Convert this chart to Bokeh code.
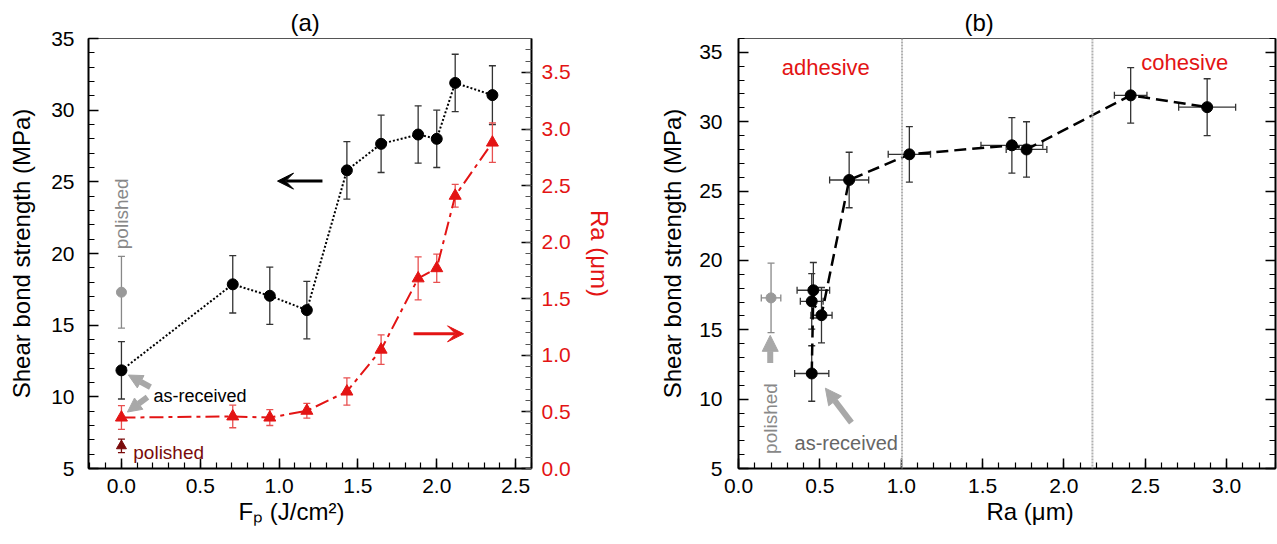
import numpy as np
from bokeh.plotting import figure
from bokeh.models import (Range1d, LinearAxis, SingleIntervalTicker, Whisker, TeeHead,
                          ColumnDataSource, Label, Arrow, VeeHead, NormalHead, Span,
                          NumeralTickFormatter, Title)
from bokeh.layouts import row
from bokeh.embed import file_html
from bokeh.resources import INLINE

# ---------------- data ----------------
fluence = [0.0, 0.706, 0.941, 1.176, 1.43, 1.647, 1.882, 2.0, 2.117, 2.353]
sbs = [11.85, 17.85, 17.05, 16.05, 25.8, 27.65, 28.3, 28.0, 31.9, 31.05]
sbs_err = [2.0, 2.0, 2.0, 2.0, 2.0, 2.0, 2.0, 2.0, 2.0, 2.05]
ra = [0.45, 0.46, 0.45, 0.51, 0.68, 1.05, 1.68, 1.77, 2.41, 2.88]
ra_err = [0.105, 0.10, 0.07, 0.065, 0.12, 0.13, 0.19, 0.125, 0.10, 0.175]

polished_fluence = [0.0]
polished_sbs = [17.3]
polished_sbs_err = [2.5]
polished_ra = [0.2]
polished_ra_err = [0.06]

adhesive_limit = 1.005
cohesive_limit = 2.175

FONT = "Liberation Sans"
RED = "#e31414"
RED_ERR = "#e85050"
DARK_RED = "#7a0a0a"
GREY = "#a8a8a8"


def style_axis(ax, color="black"):
    ax.major_label_text_font = FONT
    ax.major_label_text_font_size = "21px"
    ax.major_label_text_color = color
    ax.axis_label_text_font = FONT
    ax.axis_label_text_font_size = "24px"
    ax.axis_label_text_font_style = "normal"
    ax.axis_label_text_color = color
    ax.major_tick_in = 10
    ax.major_tick_out = 0
    ax.minor_tick_in = 6
    ax.minor_tick_out = 0
    ax.axis_line_width = 2
    ax.major_tick_line_width = 1.5
    ax.minor_tick_line_width = 1.2


def txt(p, x, y, text, size, color="black", align="left", baseline="alphabetic",
        style="normal", angle=0.0, y_range_name="default"):
    p.add_layout(Label(x=x, y=y, text=text, text_font=FONT, text_font_size=size,
                       text_color=color, text_align=align, text_baseline=baseline,
                       text_font_style=style, angle=angle, y_range_name=y_range_name))


def whisker(p, src, base, lower, upper, color, dim="height", y_range_name="default", head=7):
    p.add_layout(Whisker(source=src, base=base, lower=lower, upper=upper, dimension=dim,
                         line_color=color, line_width=1.3,
                         upper_head=TeeHead(size=head, line_color=color, line_width=1.3),
                         lower_head=TeeHead(size=head, line_color=color, line_width=1.3),
                         y_range_name=y_range_name))


def set_title(p, text, offset):
    p.title.text = text
    p.title.align = "left"
    p.title.offset = offset
    p.title.text_font = FONT
    p.title.text_font_size = "24px"
    p.title.text_font_style = "normal"
    p.title.text_color = "black"
    p.title.standoff = 5


def below_title(p, text, offset):
    p.add_layout(Title(text=text, align="left", offset=offset, text_font=FONT,
                       text_font_size="24px", text_font_style="normal",
                       text_color="black", standoff=0), "below")


# ---------------- sources ----------------
s_main = ColumnDataSource(dict(
    f=fluence, sbs=sbs, ra=ra,
    sbs_lo=[a - b for a, b in zip(sbs, sbs_err)], sbs_hi=[a + b for a, b in zip(sbs, sbs_err)],
    ra_lo=[a - b for a, b in zip(ra, ra_err)], ra_hi=[a + b for a, b in zip(ra, ra_err)],
))
s_pol = ColumnDataSource(dict(
    f=polished_fluence, sbs=polished_sbs, ra=polished_ra,
    sbs_lo=[a - b for a, b in zip(polished_sbs, polished_sbs_err)],
    sbs_hi=[a + b for a, b in zip(polished_sbs, polished_sbs_err)],
    ra_lo=[a - b for a, b in zip(polished_ra, polished_ra_err)],
    ra_hi=[a + b for a, b in zip(polished_ra, polished_ra_err)],
))

# ---------------- panel (a) ----------------
p1 = figure(width=640, height=544, x_range=Range1d(-0.209, 2.601), y_range=Range1d(5, 35),
            output_backend="svg", toolbar_location=None,
            min_border_left=88, min_border_right=109, min_border_top=38, min_border_bottom=76)
p1.xgrid.visible = False
p1.ygrid.visible = False
p1.outline_line_color = "#555555"
p1.outline_line_width = 1
set_title(p1, "(a)", 202)
p1.xaxis.ticker = SingleIntervalTicker(interval=0.5, num_minor_ticks=5)
p1.yaxis.ticker = SingleIntervalTicker(interval=5, num_minor_ticks=5)
p1.xaxis.formatter = NumeralTickFormatter(format="0.0")
p1.yaxis.axis_label = "Shear bond strength (MPa)"
style_axis(p1.xaxis[0])
style_axis(p1.yaxis[0])
p1.xaxis.major_label_standoff = 10
p1.yaxis.major_label_standoff = 14
p1.yaxis.axis_label_standoff = 13

p1.extra_y_ranges = {"ra": Range1d(0, 3.8)}
rax = LinearAxis(y_range_name="ra", axis_label="Ra (\u03bcm)",
                 ticker=SingleIntervalTicker(interval=0.5, num_minor_ticks=5),
                 formatter=NumeralTickFormatter(format="0.0"))
style_axis(rax, color=RED)
rax.axis_line_color = "black"
rax.major_tick_line_color = "black"
rax.minor_tick_line_color = "#555555"
rax.major_label_standoff = 10
rax.axis_label_standoff = 12
p1.add_layout(rax, "right")
below_title(p1, "F\u209a (J/cm\u00b2)", 150)

p1.line("f", "sbs", source=s_main, line_color="black", line_width=2, line_dash="2 2")
p1.line("f", "ra", source=s_main, line_color=RED, line_width=2, line_dash="14 5 4 5",
        y_range_name="ra")
whisker(p1, s_main, "f", "sbs_lo", "sbs_hi", "#333333")
whisker(p1, s_pol, "f", "sbs_lo", "sbs_hi", "#888888")
whisker(p1, s_main, "f", "ra_lo", "ra_hi", RED_ERR, y_range_name="ra")
whisker(p1, s_pol, "f", "ra_lo", "ra_hi", DARK_RED, y_range_name="ra")
p1.scatter("f", "sbs", source=s_main, size=11, marker="circle", fill_color="black", line_color="black")
p1.scatter("f", "sbs", source=s_pol, size=10, marker="circle", fill_color="#999999", line_color="#999999")
p1.scatter("f", "ra", source=s_main, size=12, marker="triangle", fill_color=RED, line_color=RED,
           y_range_name="ra")
p1.scatter("f", "ra", source=s_pol, size=10, marker="triangle", fill_color=DARK_RED, line_color=DARK_RED,
           y_range_name="ra")

txt(p1, 0.0, 20.3, "polished", "19px", color="#888888", baseline="middle", angle=np.pi / 2)
txt(p1, 0.203, 10.05, "as-received", "18px")
txt(p1, 0.075, 6.1, "polished", "19px", color=DARK_RED)
p1.add_layout(Arrow(end=VeeHead(size=16, fill_color="black", line_color="black"),
                    x_start=1.275, y_start=25.05, x_end=0.99, y_end=25.05,
                    line_color="black", line_width=3))
p1.add_layout(Arrow(end=VeeHead(size=16, fill_color=RED, line_color=RED),
                    x_start=1.853, y_start=1.19, x_end=2.17, y_end=1.19,
                    line_color=RED, line_width=3, y_range_name="ra"))
p1.add_layout(Arrow(end=NormalHead(size=14, fill_color=GREY, line_color=GREY),
                    x_start=0.184, y_start=10.68, x_end=0.044, y_end=11.52,
                    line_color=GREY, line_width=6))
p1.add_layout(Arrow(end=NormalHead(size=14, fill_color=GREY, line_color=GREY),
                    x_start=0.165, y_start=9.98, x_end=0.038, y_end=8.94,
                    line_color=GREY, line_width=6))

# ---------------- panel (b) ----------------
p2 = figure(width=637, height=544, x_range=Range1d(0, 3.3), y_range=Range1d(5, 36),
            output_backend="svg", toolbar_location=None,
            min_border_left=98, min_border_right=2, min_border_top=38, min_border_bottom=76)
p2.xgrid.visible = False
p2.ygrid.visible = False
p2.outline_line_color = "#555555"
p2.outline_line_width = 1
set_title(p2, "(b)", 226)
p2.xaxis.ticker = SingleIntervalTicker(interval=0.5, num_minor_ticks=5)
p2.yaxis.ticker = SingleIntervalTicker(interval=5, num_minor_ticks=5)
p2.xaxis.formatter = NumeralTickFormatter(format="0.0")
p2.yaxis.axis_label = "Shear bond strength (MPa)"
style_axis(p2.xaxis[0])
style_axis(p2.yaxis[0])
p2.xaxis.major_label_standoff = 10
p2.yaxis.major_label_standoff = 16
p2.yaxis.axis_label_standoff = 10

rax2 = LinearAxis(ticker=SingleIntervalTicker(interval=5, num_minor_ticks=5))
style_axis(rax2)
rax2.major_label_text_font_size = "0px"
rax2.major_label_text_color = None
rax2.major_label_standoff = 0
p2.add_layout(rax2, "right")
below_title(p2, "Ra (\u03bcm)", 248)

p2.add_layout(Span(location=adhesive_limit, dimension="height", line_color="#b0b0b0",
                   line_width=2, line_dash="2 1"))
p2.add_layout(Span(location=cohesive_limit, dimension="height", line_color="#b0b0b0",
                   line_width=2, line_dash="2 1"))

p2.line("ra", "sbs", source=s_main, line_color="black", line_width=2.5, line_dash="12 6")
whisker(p2, s_main, "ra", "sbs_lo", "sbs_hi", "#333333")
whisker(p2, s_main, "sbs", "ra_lo", "ra_hi", "#333333", dim="width")
whisker(p2, s_pol, "ra", "sbs_lo", "sbs_hi", "#888888")
whisker(p2, s_pol, "sbs", "ra_lo", "ra_hi", "#888888", dim="width")
p2.scatter("ra", "sbs", source=s_main, size=11, marker="circle", fill_color="black", line_color="black")
p2.scatter("ra", "sbs", source=s_pol, size=10, marker="circle", fill_color="#999999", line_color="#999999")

txt(p2, 0.536, 33.9, "adhesive", "22px", color=RED, align="center")
txt(p2, 2.742, 34.26, "cohesive", "22px", color=RED, align="center")
txt(p2, 0.195, 6.05, "polished", "19px", color="#888888", baseline="middle", angle=np.pi / 2)
txt(p2, 0.662, 6.87, "as-received", "20px", color="#666666", align="center")
p2.add_layout(Arrow(end=NormalHead(size=16, fill_color=GREY, line_color=GREY),
                    x_start=0.195, y_start=12.6, x_end=0.195, y_end=14.6,
                    line_color=GREY, line_width=6))
p2.add_layout(Arrow(end=NormalHead(size=16, fill_color=GREY, line_color=GREY),
                    x_start=0.694, y_start=8.31, x_end=0.534, y_end=10.79,
                    line_color=GREY, line_width=6))

layout = row(p1, p2)
open("out.html", "w").write(file_html(layout, INLINE))
